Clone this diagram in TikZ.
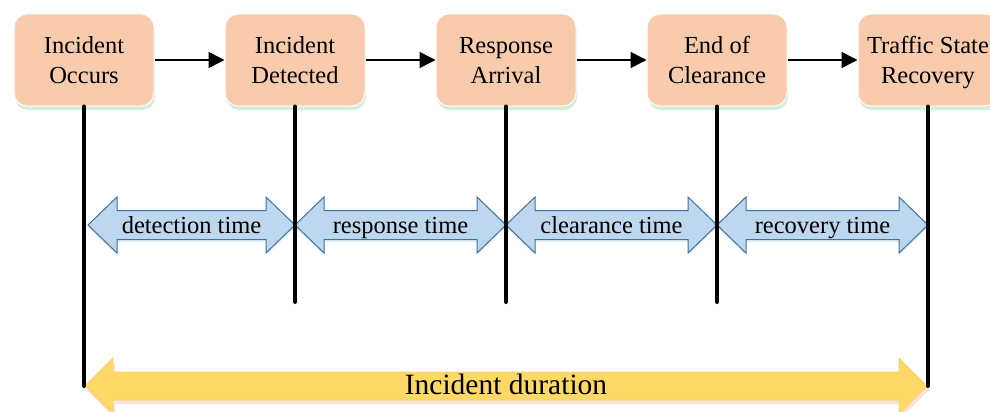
\documentclass[tikz,border=0pt]{standalone}
\usepackage{fontspec}
\setmainfont{Liberation Serif}
\usetikzlibrary{arrows.meta,shadows}
\definecolor{boxfill}{HTML}{F8CBAD}
\definecolor{boxshadow}{HTML}{C9E8D2}
\definecolor{bluefill}{HTML}{BDD7EE}
\definecolor{bluedraw}{HTML}{41719C}
\definecolor{yellowfill}{HTML}{FFD966}
\definecolor{yellowdraw}{HTML}{F3D27A}
\definecolor{pinkshadow}{HTML}{FBE2D5}
\newcommand\mydblarrow[6]{% x1, x2, y, head half, shaft half, head length
  (#1,#3) -- ({#1+#6},{#3-#4}) -- ({#1+#6},{#3-#5}) -- ({#2-#6},{#3-#5}) --
  ({#2-#6},{#3-#4}) -- (#2,#3) -- ({#2-#6},{#3+#4}) -- ({#2-#6},{#3+#5}) --
  ({#1+#6},{#3+#5}) -- ({#1+#6},{#3+#4}) -- cycle}
\newcommand\dsc{\vphantom{y}}
\newcommand\tallstrut{\rule{0pt}{23pt}}
\tikzset{
  stagebox/.style={fill=boxfill, draw=white, line width=1pt, rounded corners=13pt,
    minimum width=140pt, minimum height=92pt, inner sep=0pt, align=center,
    font=\fontsize{24.5}{30}\selectfont,
    drop shadow={fill=boxshadow, opacity=0.8, shadow xshift=1pt, shadow yshift=-4pt}},
  flowarrow/.style={line width=1.6pt, -{Triangle[length=16pt,width=16pt]}},
  tickline/.style={line width=4pt, line cap=round},
  bluearrow/.style={fill=bluefill, draw=bluedraw, line width=1pt, line join=miter},
  yellowarrow/.style={fill=yellowfill, draw=yellowdraw, line width=0.8pt},
  smalllabel/.style={font=\fontsize{24.5}{28}\selectfont, inner sep=0pt,
    text height=17pt, text depth=5.5pt},
  biglabel/.style={font=\fontsize{29.5}{33}\selectfont, inner sep=0pt,
    text height=20pt, text depth=6.5pt},
}
\begin{document}
\begin{tikzpicture}[x=1pt,y=-1pt]
\useasboundingbox (0,0) rectangle (990,412);
\clip (0,0) rectangle (990,412);
% stage boxes
\node[stagebox] (b1) at (84,60) {\tallstrut Incident\\Occurs\dsc};
\node[stagebox] (b2) at (295,60) {\tallstrut Incident\\Detected\dsc};
\node[stagebox] (b3) at (506,60) {\tallstrut Response\\Arrival\dsc};
\node[stagebox] (b4) at (717,60) {\tallstrut End of\\Clearance\dsc};
\node[stagebox] (b5) at (928,60) {\tallstrut Traffic State\\Recovery\dsc};
% flow arrows
\draw[flowarrow] (b1) -- (b2);
\draw[flowarrow] (b2) -- (b3);
\draw[flowarrow] (b3) -- (b4);
\draw[flowarrow] (b4) -- (b5);
% tick endpoints
\coordinate (e1) at (84,386);
\coordinate (e2) at (295,302);
\coordinate (e3) at (506,302);
\coordinate (e4) at (717,302);
\coordinate (e5) at (928,386);
% blue double arrows
\fill[bluefill!60, opacity=0.5] \mydblarrow{88}{295}{228}{28}{14.5}{29};
\fill[bluefill!60, opacity=0.5] \mydblarrow{295}{506}{228}{28}{14.5}{29};
\fill[bluefill!60, opacity=0.5] \mydblarrow{506}{717}{228}{28}{14.5}{29};
\fill[bluefill!60, opacity=0.5] \mydblarrow{717}{928}{228}{28}{14.5}{29};
\draw[bluearrow] \mydblarrow{88}{295}{225}{28}{14.5}{29};
\draw[bluearrow] \mydblarrow{295}{506}{225}{28}{14.5}{29};
\draw[bluearrow] \mydblarrow{506}{717}{225}{28}{14.5}{29};
\draw[bluearrow] \mydblarrow{717}{928}{225}{28}{14.5}{29};
\node[smalllabel] (t1) at (191.5,228) {detection time};
\node[smalllabel] (t2) at (400.5,228) {response time};
\node[smalllabel] (t3) at (611.5,228) {clearance time};
\node[smalllabel] (t4) at (822.5,228) {recovery time};
% yellow duration arrow
\fill[pinkshadow] \mydblarrow{87}{929}{390}{28}{14}{28};
\draw[yellowarrow] \mydblarrow{85}{927}{386}{28}{14}{28};
\node[biglabel] (dur) at (506,388) {Incident duration};
% tick lines
\draw[tickline] (b1.south) -- (e1);
\draw[tickline] (b2.south) -- (e2);
\draw[tickline] (b3.south) -- (e3);
\draw[tickline] (b4.south) -- (e4);
\draw[tickline] (b5.south) -- (e5);
\end{tikzpicture}
\end{document}
